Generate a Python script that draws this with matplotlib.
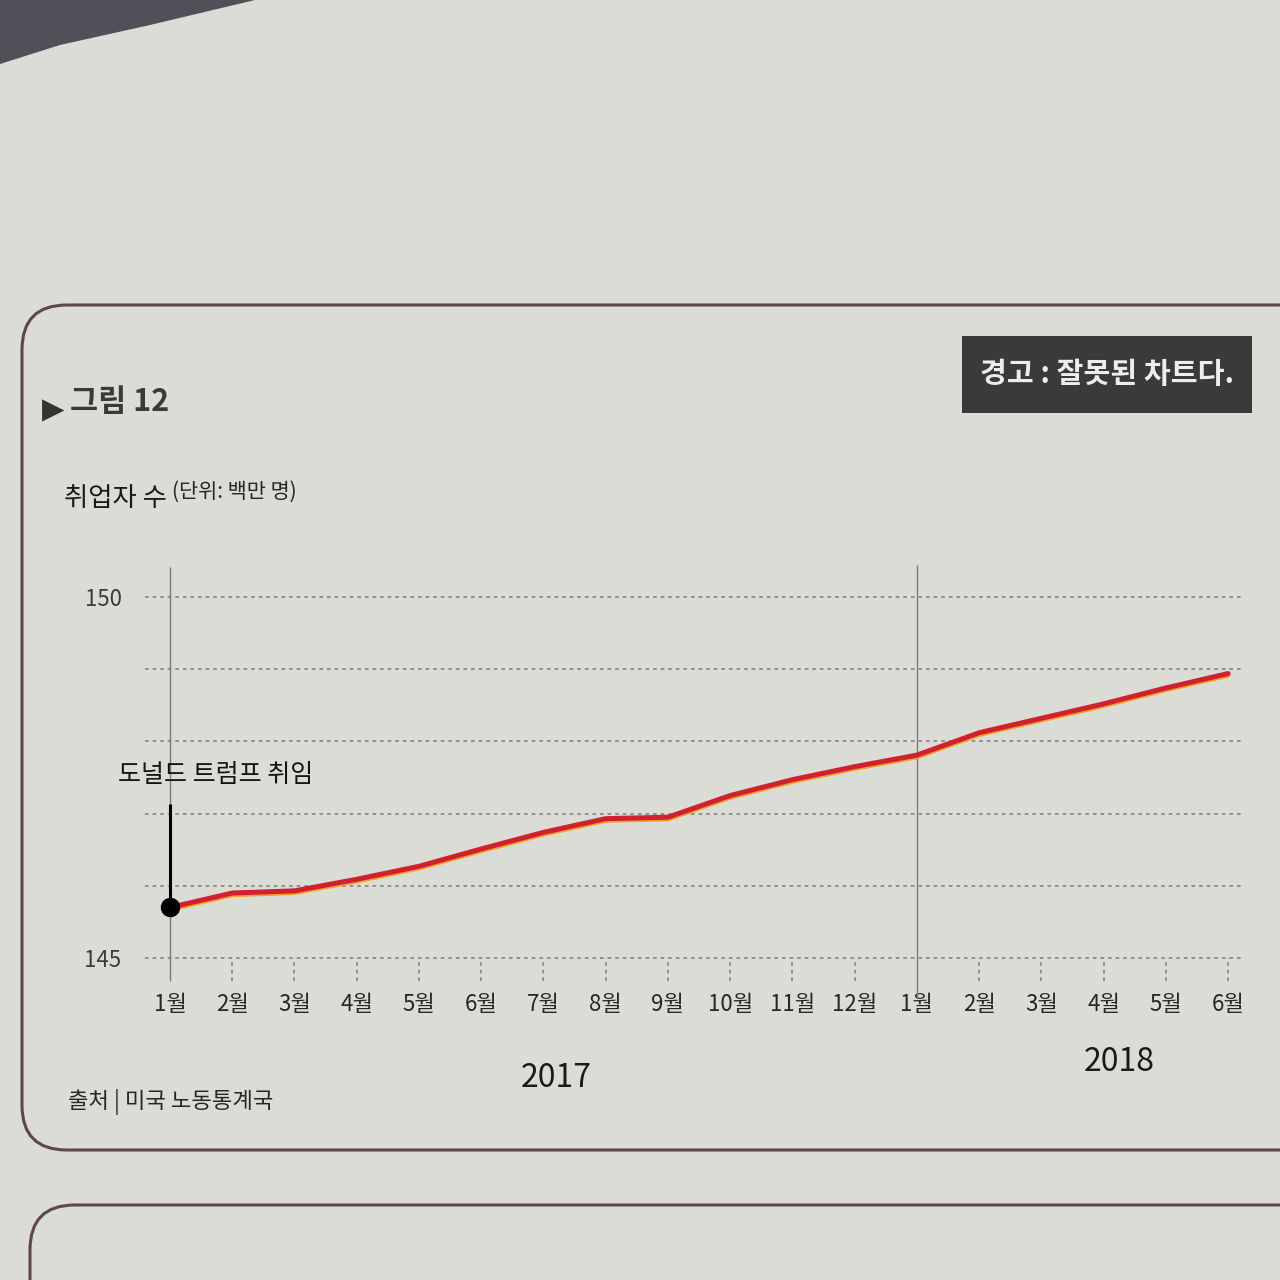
import matplotlib
matplotlib.use("Agg")
import matplotlib.pyplot as plt
import matplotlib.transforms as mtransforms
from matplotlib.patches import FancyBboxPatch, Rectangle, Polygon

plt.rcParams["font.family"] = ["Noto Sans CJK KR", "DejaVu Sans"]

# data (nonfarm employment, millions)
months = ["1월", "2월", "3월", "4월", "5월", "6월", "7월", "8월", "9월", "10월", "11월", "12월",
          "1월", "2월", "3월", "4월", "5월", "6월"]
employed = [145.70, 145.90, 145.93, 146.09, 146.27, 146.51, 146.74, 146.93, 146.95,
            147.25, 147.47, 147.65, 147.81, 148.12, 148.32, 148.52, 148.74, 148.94]
grid_levels = [145, 146, 147, 148, 149, 150]
y_ticks = [145, 150]
years = ["2017", "2018"]
year_pos = [6.2, 15.25]
year_start_2018 = 12

PAGE = "#dcdcd7"
BORDER = "#5e474b"
GRID = "#8a8a8a"
RED = "#d1202f"

W = H = 1280


def fx(px):
    return px / W


def fy(py):
    return 1 - py / H


fig = plt.figure(figsize=(12.8, 12.8), dpi=100, facecolor=PAGE)

# page furniture: dark corner, rounded frames
fig.add_artist(Polygon([(fx(0), fy(0)), (fx(255), fy(0)), (fx(150), fy(25)), (fx(60), fy(45)), (fx(0), fy(64))],
                       closed=True, transform=fig.transFigure, facecolor="#4f5058", edgecolor="none"))
fig.add_artist(FancyBboxPatch((fx(22), fy(1150)), fx(1400), (1150 - 305) / H,
                              boxstyle="round,pad=0,rounding_size=0.035", transform=fig.transFigure,
                              fill=False, edgecolor=BORDER, linewidth=2.2))
fig.add_artist(FancyBboxPatch((fx(30), fy(1400)), fx(1400), (1400 - 1205) / H,
                              boxstyle="round,pad=0,rounding_size=0.035", transform=fig.transFigure,
                              fill=False, edgecolor=BORDER, linewidth=2.2))

# header texts
fig.text(fx(42), fy(410), "▶", fontsize=21, color="#333333", va="center", ha="left",
         family=["DejaVu Sans"])
fig.text(fx(70), fy(402), "그림 12", fontsize=22, color="#3a3a3a", va="center", ha="left",
         fontweight="bold")
fig.add_artist(Rectangle((fx(962), fy(413)), fx(290), (413 - 336) / H, transform=fig.transFigure,
                         facecolor="#3a3a3a", edgecolor="none"))
fig.text(fx(1107), fy(374), "경고 : 잘못된 차트다.", fontsize=21, color="#ededed", va="center",
         ha="center", fontweight="bold")
fig.text(fx(64), fy(498), "취업자 수", fontsize=19, color="#1a1a1a", va="center", ha="left")
fig.text(fx(172), fy(492), "(단위: 백만 명)", fontsize=15, color="#262626", va="center", ha="left")
fig.text(fx(68), fy(1102), "출처 | 미국 노동통계국", fontsize=16, color="#262626", va="center", ha="left")

# axes placement in pixels
X0_PX, DX_PX = 170, 62.24
Y150_PX, DY_PX = 597, 72.2
xlim = (-0.6, 17.4)
ylim = (144.55, 150.55)
left_px = X0_PX + xlim[0] * DX_PX
right_px = X0_PX + xlim[1] * DX_PX
top_px = Y150_PX - (ylim[1] - 150) * DY_PX
bottom_px = Y150_PX + (150 - ylim[0]) * DY_PX
ax = fig.add_axes([fx(left_px), fy(bottom_px), (right_px - left_px) / W, (bottom_px - top_px) / H])
ax.set_facecolor("none")
ax.set_xlim(*xlim)
ax.set_ylim(*ylim)
for s in ax.spines.values():
    s.set_visible(False)

x = list(range(len(employed)))

ax.hlines(grid_levels, -0.4, 17.2, colors=GRID, linewidth=1.3, linestyles=(0, (2.0, 2.2)))
tick_x = [i for i in x if i not in (0, year_start_2018)]
ax.vlines(tick_x, 144.68, 145, colors=GRID, linewidth=1.3, linestyles=(0, (2.0, 2.2)), clip_on=False)
ax.vlines(0, 144.68, 150.42, colors="#7a7a7a", linewidth=1.0, clip_on=False)
ax.vlines(year_start_2018, 144.45, 150.45, colors="#7a7a7a", linewidth=1.0, clip_on=False)

# line with slight print fringe underneath
shift = mtransforms.offset_copy(ax.transData, fig=fig, x=0, y=-1.3, units="points")
ax.plot(x, employed, color="#f0a024", linewidth=3.4, transform=shift, solid_capstyle="round",
        solid_joinstyle="round", zorder=3)
ax.plot(x, employed, color=RED, linewidth=3.6, solid_capstyle="round", solid_joinstyle="round", zorder=4)

# inauguration marker
ax.vlines(0, employed[0], 147.13, colors="black", linewidth=2.2, zorder=5)
ax.plot([0], [employed[0]], "o", color="black", markersize=13, zorder=6)
ax.text(-0.84, 147.36, "도널드 트럼프 취임", fontsize=18, color="#151515", ha="left", va="bottom")

ax.set_xticks(x, months)
ax.set_yticks(y_ticks, [str(v) for v in y_ticks])
ax.tick_params(axis="x", length=0, pad=2, labelsize=16, labelcolor="#262626")
ax.tick_params(axis="y", length=0, pad=8, labelsize=16, labelcolor="#3c3c3c")

for label, xpos, ypx in zip(years, year_pos, [1078, 1062]):
    fig.text(fx(X0_PX + xpos * DX_PX), fy(ypx), label, fontsize=23, color="#1a1a1a",
             ha="center", va="center", fontweight="medium")

fig.savefig("out.png", dpi=100, facecolor=PAGE)
